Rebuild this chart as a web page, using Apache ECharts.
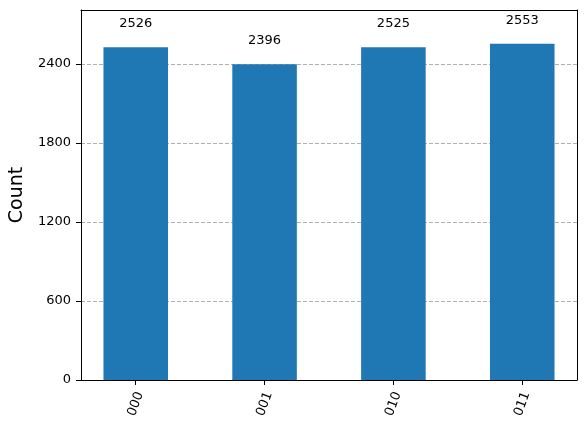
<!DOCTYPE html>
<html>
<head>
<meta charset="utf-8">
<script src="https://cdn.jsdelivr.net/npm/echarts@6/dist/echarts.min.js"></script>
<style>html,body{margin:0;padding:0;background:#fff}#c{width:585px;height:429px}</style>
</head>
<body>
<div id="c"></div>
<script>
const categories = ['000', '001', '010', '011'];
const counts = [2526, 2396, 2525, 2553];
const yTicks = [0, 600, 1200, 1800, 2400];

const font = 'DejaVu Sans';
const chart = echarts.init(document.getElementById('c'), null, {renderer: 'canvas'});
const gridLeft = 80, gridRight = 8;
const plotW = 585 - gridLeft - gridRight;
const xMin = -0.425, xMax = categories.length - 1 + 0.425;
const barW = plotW / (xMax - xMin) * 0.5;
const yMax = Math.max(...counts) * 1.1;

chart.setOption({
  animation: false,
  textStyle: {fontFamily: font},
  grid: {left: gridLeft, right: gridRight, top: 10, bottom: 49, show: false},
  xAxis: [{
    type: 'value', min: xMin, max: xMax,
    axisLine: {show: true, onZero: false, lineStyle: {color: '#000', width: 1}},
    axisTick: {show: true, length: 5, lineStyle: {color: '#000'}, customValues: categories.map((c, i) => i)},
    axisLabel: {
      customValues: categories.map((c, i) => i),
      formatter: v => categories[Math.round(v)],
      rotate: 70, margin: 24, align: 'center', verticalAlign: 'middle',
      color: '#000', fontSize: 13, fontFamily: font
    },
    splitLine: {show: false}
  }, {
    type: 'value', position: 'top', min: xMin, max: xMax,
    axisLine: {show: true, onZero: false, lineStyle: {color: '#000', width: 1}},
    axisTick: {show: false}, axisLabel: {show: false}, splitLine: {show: false}
  }],
  yAxis: [{
    type: 'value', min: 0, max: yMax, interval: 600,
    name: 'Count', nameLocation: 'middle', nameRotate: 90, nameGap: 52,
    nameTextStyle: {fontSize: 19, color: '#000', fontFamily: font},
    axisLine: {show: true, onZero: false, lineStyle: {color: '#000', width: 1}},
    axisTick: {show: true, length: 5, lineStyle: {color: '#000'}},
    axisLabel: {color: '#000', fontSize: 13, margin: 10, fontFamily: font, showMaxLabel: false,
      formatter: v => yTicks.includes(v) ? String(v) : ''},
    splitLine: {show: true, showMinLine: false, showMaxLine: false, lineStyle: {color: '#b0b0b0', type: [4, 2], width: 1}}
  }, {
    type: 'value', position: 'right', min: 0, max: yMax,
    axisLine: {show: true, onZero: false, lineStyle: {color: '#000', width: 1}},
    axisTick: {show: false}, axisLabel: {show: false}, splitLine: {show: false}
  }],
  series: [{
    type: 'bar',
    xAxisIndex: 0, yAxisIndex: 0,
    data: counts.map((v, i) => [i, v]),
    barWidth: barW,
    itemStyle: {color: '#1f77b4'},
    label: {show: true, position: 'top', distance: 17, color: '#000', fontSize: 13, fontFamily: font,
      formatter: p => String(p.value[1])}
  }]
});
</script>
</body>
</html>
